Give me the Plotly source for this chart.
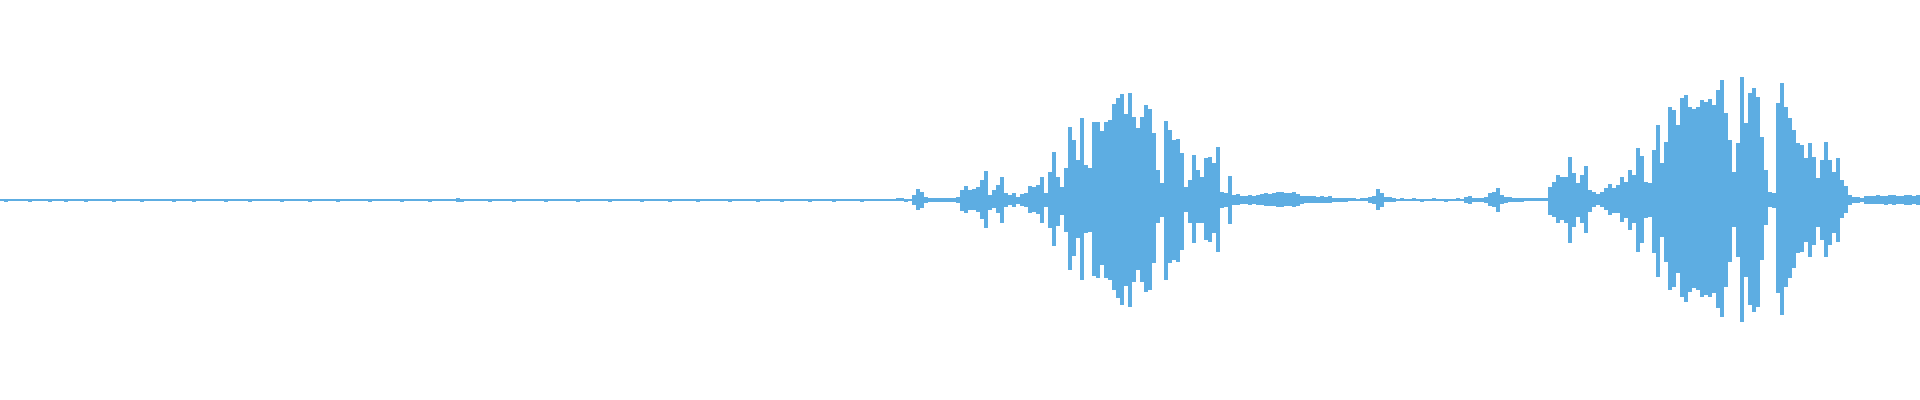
import plotly.graph_objects as go

# Waveform envelope, one value per time bin (amplitude in % of full scale)
# Quiet lead-in (bins 0..221)
quiet_upper = [
    0.75, 0.6, 0.75, 0.5, 0.5, 0.75, 0.5, 0.5, 0.5, 0.75, 0.75, 0.5, 0.5, 0.5, 0.5, 0.75, 0.5, 0.5, 0.75, 0.5,
    0.5, 0.5, 0.75, 0.5, 0.5, 0.5, 0.5, 0.75, 0.5, 0.5, 0.5, 0.5, 0.5, 0.75, 0.5, 0.5, 0.75, 0.75, 0.5, 0.5,
    0.75, 0.5, 0.75, 0.5, 0.5, 0.75, 0.5, 0.5, 0.5, 0.5, 0.75, 0.5, 0.5, 0.75, 0.5, 0.5, 0.5, 0.75, 0.75, 0.5,
    0.5, 0.5, 0.5, 0.75, 0.5, 0.5, 0.75, 0.5, 0.75, 0.5, 0.5, 0.5, 0.5, 0.75, 0.5, 0.5, 0.5, 0.5, 0.75, 0.75,
    0.5, 0.5, 0.75, 0.5, 0.5, 0.5, 0.75, 0.5, 0.5, 0.75, 0.5, 0.5, 0.5, 0.5, 0.5, 0.75, 0.5, 0.5, 0.75, 0.5,
    0.5, 0.75, 0.5, 0.5, 0.5, 0.75, 0.5, 0.5, 0.5, 0.75, 0.5, 0.5, 0.5, 0.75, 1.0, 0.75, 0.5, 0.5, 0.5, 0.75,
    0.5, 0.5, 0.5, 0.75, 0.5, 0.75, 0.5, 0.5, 0.5, 0.5, 0.75, 0.5, 0.5, 0.5, 0.75, 0.5, 0.5, 0.75, 0.5, 0.5,
    0.5, 0.75, 0.5, 0.5, 0.5, 0.5, 0.75, 0.5, 0.5, 0.75, 0.5, 0.5, 0.5, 0.75, 0.5, 0.5, 0.5, 0.5, 0.75, 0.5,
    0.5, 0.5, 0.75, 0.5, 0.5, 0.75, 0.5, 0.5, 0.5, 0.5, 0.75, 0.5, 0.5, 0.75, 0.5, 0.5, 0.5, 0.75, 0.5, 0.5,
    0.75, 0.5, 0.5, 0.5, 0.75, 0.5, 0.5, 0.5, 0.75, 0.5, 0.5, 0.75, 0.5, 0.5, 0.5, 0.5, 0.75, 0.5, 0.5, 0.75,
    0.5, 0.5, 0.5, 0.75, 0.5, 0.5, 0.75, 0.5, 0.5, 0.5, 0.75, 0.5, 0.5, 0.5, 0.5, 0.75, 0.5, 0.5, 0.75, 0.5,
    0.5, 0.5,
]
quiet_lower = [
    0.5, 0.75, 0.5, 0.5, 0.5, 0.5, 0.5, 0.75, 0.5, 0.5, 0.5, 0.5, 0.75, 0.5, 0.5, 0.5, 0.75, 0.5, 0.5, 0.5,
    0.5, 0.75, 0.5, 0.5, 0.5, 0.5, 0.5, 0.5, 0.75, 0.5, 0.5, 0.5, 0.5, 0.5, 0.5, 0.75, 0.5, 0.5, 0.5, 0.5,
    0.5, 0.5, 0.5, 0.75, 0.5, 0.5, 0.5, 0.5, 0.75, 0.5, 0.5, 0.5, 0.5, 0.5, 0.5, 0.5, 0.75, 0.5, 0.5, 0.5,
    0.5, 0.5, 0.75, 0.5, 0.5, 0.5, 0.5, 0.5, 0.5, 0.5, 0.75, 0.5, 0.5, 0.5, 0.5, 0.5, 0.5, 0.75, 0.5, 0.5,
    0.5, 0.5, 0.5, 0.5, 0.75, 0.5, 0.5, 0.5, 0.5, 0.5, 0.5, 0.5, 0.75, 0.5, 0.5, 0.5, 0.5, 0.5, 0.5, 0.5,
    0.75, 0.5, 0.5, 0.5, 0.5, 0.5, 0.5, 0.75, 0.5, 0.5, 0.5, 0.5, 0.5, 0.5, 1.0, 0.75, 0.5, 0.5, 0.5, 0.5,
    0.5, 0.5, 0.75, 0.5, 0.5, 0.5, 0.5, 0.5, 0.75, 0.5, 0.5, 0.5, 0.5, 0.5, 0.5, 0.5, 0.75, 0.5, 0.5, 0.5,
    0.5, 0.5, 0.5, 0.5, 0.75, 0.5, 0.5, 0.5, 0.5, 0.5, 0.5, 0.5, 0.75, 0.5, 0.5, 0.5, 0.5, 0.5, 0.5, 0.5,
    0.75, 0.5, 0.5, 0.5, 0.5, 0.5, 0.5, 0.75, 0.5, 0.5, 0.5, 0.5, 0.5, 0.5, 0.75, 0.5, 0.5, 0.5, 0.5, 0.5,
    0.5, 0.5, 0.75, 0.5, 0.5, 0.5, 0.5, 0.5, 0.5, 0.75, 0.5, 0.5, 0.5, 0.5, 0.5, 0.75, 0.5, 0.5, 0.5, 0.5,
    0.5, 0.5, 0.75, 0.5, 0.5, 0.5, 0.5, 0.5, 0.75, 0.5, 0.5, 0.5, 0.5, 0.5, 0.5, 0.75, 0.5, 0.5, 0.5, 0.5,
    0.5, 0.5,
]

# First utterance (bins 222..308)
onset_upper = [0.6, 0.6, 0.8, 0.8, 0.6, 0.6, 2.5, 5.5, 4, 1.7, 1.2, 1, 1.2, 0.8, 0.8, 0.8, 0.8, 1.3,
               5, 7, 5, 5.3, 6.3, 10, 14.7, 2.5, 5, 7.5, 11.7]
onset_lower = [0.6, 0.6, 0.6, 0.6, 0.8, 0.6, 2.5, 5, 4, 1.3, 1, 1, 1, 0.8, 0.8, 0.8, 0.8, 1.3,
               5.3, 6.7, 5, 5, 6, 9.7, 14.2, 5, 4, 6.7, 11.7]
rise_upper = [3.7, 2.5, 3.7, 1.7, 3, 3.7, 7, 6.3, 7.5, 11.7, 3.3, 14, 24, 11.7, 6.7, 16, 36.7, 30, 20,
              40.8, 17.5, 15.8, 39, 39, 34.7, 39, 40, 48, 51]
rise_lower = [3.3, 2.5, 3.3, 2, 3, 3.3, 6.7, 5.8, 7, 11.3, 3.3, 14, 23, 13, 7.5, 16, 35, 28, 19,
              40, 16.7, 15.8, 38, 39, 32.5, 39, 40, 45, 49]
peak1_upper = [53, 43, 53.7, 41.7, 35.8, 41.7, 47.5, 45.3, 33.3, 15, 8.3, 39.7, 35, 30, 30.3, 23.3, 6.7,
               10, 22.5, 15, 11.7, 20.8, 21.3, 18.3, 26.3, 4.2, 3.3, 12, 2.5]
peak1_lower = [52.5, 43, 53.3, 40.8, 35, 40.8, 45.8, 45, 31.7, 11.7, 8.3, 40, 31.7, 30, 30.8, 25, 5.8,
               11.7, 21.7, 11.7, 11.7, 20, 20.8, 16.7, 25.8, 4.2, 3.3, 12, 2.5]

# Gap with murmur (bins 309..394)
murmur_upper = [3, 2, 2.2, 2.5, 2, 2.5, 2.8, 3.3, 3, 3.3, 3.8, 3.8, 3.3, 3.5, 3.8, 3, 2.2, 1.8, 1.8, 1.8,
                1.5, 1.8, 1.5, 1.8, 1.2, 1.2, 1.2, 1]
murmur_lower = [2.5, 2, 2, 2.5, 2, 2.3, 2.5, 3, 3, 3, 3.3, 3.3, 3, 3.2, 3.3, 2.8, 2, 1.5, 1.5, 1.5,
                1.3, 1.5, 1.3, 1.3, 1, 1, 1, 0.8]
click_upper = [0.8, 0.8, 0.6, 0.8, 0.8, 1.3, 2, 5.3, 3.3, 1.3, 1.3, 1,
               0.6, 0.8, 0.6, 0.6, 0.9, 0.6, 0.6, 0.6, 0.6, 0.8, 0.6, 0.7, 0.6, 0.6, 0.6, 0.8, 0.6]
click_lower = [0.6, 0.6, 0.6, 0.6, 0.6, 1.3, 2, 5, 3.3, 1.2, 1, 1,
               0.6, 0.6, 0.7, 0.6, 0.6, 0.6, 0.8, 0.6, 0.6, 0.6, 0.6, 0.6, 0.8, 0.6, 0.6, 0.6, 0.6]
lead2_upper = [1.7, 2.2, 1.2, 1, 0.8, 1.7, 3.3, 4.2, 5.8, 2.5, 1.7, 1.5, 1.2, 1, 1,
               0.8, 0.8, 0.8, 0.8, 0.8, 0.8, 6.7, 9.2, 12.5, 11.7, 11.7, 21.3, 13.3, 8.7]
lead2_lower = [1.5, 2, 1, 0.8, 0.8, 1.5, 3, 3.7, 5.8, 2.2, 1.5, 1.2, 1, 0.8, 0.8,
               0.6, 0.6, 0.6, 0.6, 0.6, 0.6, 7.5, 8.3, 11.7, 10, 11.7, 21.3, 13.3, 8.3]

# Second utterance (bins 395..479)
rise2_upper = [12.5, 17, 5, 4.2, 3, 4.2, 5.8, 8, 5.8, 7.5, 11.3, 9.2, 15, 12.5, 25.8, 22, 9.2, 8.3, 25,
               37.5, 18.3, 29, 46.7, 45, 37.5, 50.8, 52.5, 46.7, 45.3]
rise2_lower = [11.7, 16.7, 5.8, 3.3, 2.5, 3.3, 5, 7.5, 6.7, 6.7, 10.8, 9.2, 15, 11.7, 25.8, 21.7, 9.2, 8.3,
               26.7, 38.3, 18.3, 30.8, 45, 43.3, 36.7, 48.3, 50.8, 45.8, 44]
peak2_upper = [46.7, 50, 49.2, 50.3, 47.5, 55, 60, 43.3, 30, 14.2, 28.3, 61.3, 38.3, 53.3, 55.8, 51.7,
               31.7, 15, 4.2, 3.3, 48.3, 58.3, 46.7, 40.8, 35, 28.3, 27.5, 20.8]
peak2_lower = [45, 48.3, 47.5, 48.3, 46.7, 54, 58.3, 43.3, 30.8, 13.3, 28.3, 60.8, 38.3, 52.5, 55.8, 53.3,
               30, 12.5, 3.3, 4.2, 46.7, 57.5, 43.3, 39.2, 34.2, 26.7, 25.8, 20.8]
tail_upper = [28.3, 21.7, 10.8, 20, 29, 20, 14.2, 20.8, 10, 7, 2.5, 1.3, 1.3, 1.2, 2,
              2.2, 2, 2.5, 2.2, 2, 2.3, 2.5, 2.2, 2, 2.5, 2.3, 2.2, 2.5]
tail_lower = [28.3, 22.5, 13.3, 20, 28.3, 22.5, 16.7, 20.8, 9.2, 6.7, 2.5, 1.5, 1.3, 1.2, 2,
              2, 2.2, 2.2, 2, 2.3, 2.2, 2.5, 2, 2.2, 2.3, 2.5, 2.2, 2.3]

upper = (quiet_upper + onset_upper + rise_upper + peak1_upper + murmur_upper + click_upper
         + lead2_upper + rise2_upper + peak2_upper + tail_upper)
lower = (quiet_lower + onset_lower + rise_lower + peak1_lower + murmur_lower + click_lower
         + lead2_lower + rise2_lower + peak2_lower + tail_lower)

n = len(upper)
t = list(range(n))

fig = go.Figure(
    go.Bar(
        x=t,
        y=[u + l for u, l in zip(upper, lower)],
        base=[-l for l in lower],
        width=1.0,
        marker=dict(color="#5dade2", line=dict(width=0)),
        hoverinfo="skip",
    )
)
fig.update_layout(
    width=1920,
    height=400,
    margin=dict(l=0, r=0, t=0, b=0),
    bargap=0,
    showlegend=False,
    paper_bgcolor="white",
    plot_bgcolor="white",
    hovermode=False,
    xaxis=dict(visible=False, range=[-0.5, n - 0.5], fixedrange=True),
    yaxis=dict(visible=False, range=[-100, 100], fixedrange=True),
)
fig.write_html(
    "out.html",
    config={"displayModeBar": False, "staticPlot": True},
    post_script="document.body.style.margin='0';document.body.style.overflow='hidden';",
)
